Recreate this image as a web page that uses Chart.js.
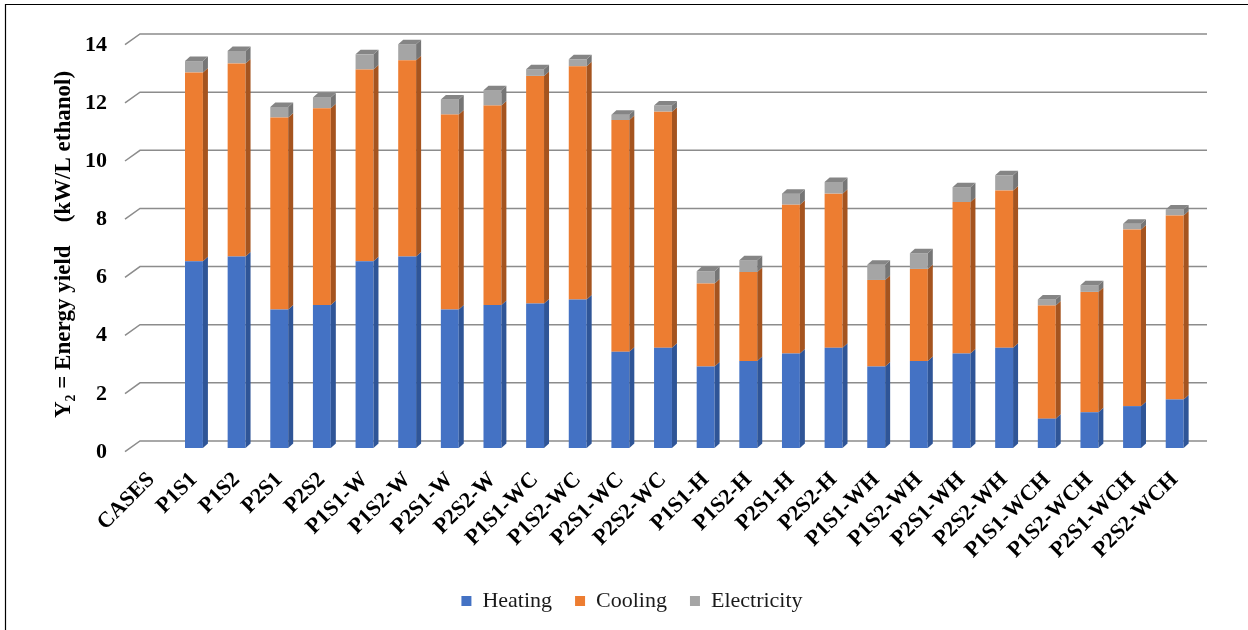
<!DOCTYPE html>
<html>
<head>
<meta charset="utf-8">
<script src="https://cdn.jsdelivr.net/npm/chart.js@4.4.1/dist/chart.umd.min.js"></script>
<style>
  html, body { margin: 0; padding: 0; background: #fff; }
  #wrap { position: relative; width: 1248px; height: 630px; }
</style>
</head>
<body>
<div id="wrap"><canvas id="barChart" width="1248" height="630"></canvas></div>
<script>
// cases on the x axis (first slot is the axis caption, it has no bar)
var casos = ['CASES', 'P1S1', 'P1S2', 'P2S1', 'P2S2', 'P1S1-W', 'P1S2-W', 'P2S1-W', 'P2S2-W',
  'P1S1-WC', 'P1S2-WC', 'P2S1-WC', 'P2S2-WC', 'P1S1-H', 'P1S2-H', 'P2S1-H', 'P2S2-H',
  'P1S1-WH', 'P1S2-WH', 'P2S1-WH', 'P2S2-WH', 'P1S1-WCH', 'P1S2-WCH', 'P2S1-WCH', 'P2S2-WCH'];

// energy yield per stack part (kW/L ethanol)
var heating = [null, 6.42, 6.59, 4.76, 4.92, 6.42, 6.59, 4.76, 4.92, 4.97, 5.11, 3.31, 3.45,
  2.80, 2.99, 3.25, 3.45, 2.80, 2.99, 3.25, 3.45, 1.01, 1.23, 1.44, 1.67];
var cooling = [null, 6.50, 6.64, 6.61, 6.77, 6.60, 6.75, 6.71, 6.86, 7.83, 8.02, 7.97, 8.12,
  2.86, 3.06, 5.12, 5.30, 2.98, 3.17, 5.21, 5.41, 3.89, 4.14, 6.08, 6.33];
var electricity = [null, 0.39, 0.43, 0.36, 0.37, 0.52, 0.55, 0.52, 0.53, 0.23, 0.24, 0.18, 0.21,
  0.42, 0.41, 0.38, 0.40, 0.52, 0.54, 0.51, 0.52, 0.21, 0.23, 0.19, 0.20];

var yTicks = [0, 2, 4, 6, 8, 10, 12, 14];

var fuente = "'Liberation Serif', 'Times New Roman', serif";

// front colour / side colour / top colour for every series
var colores = {
  Heating: ['#4472C4', '#2F5597', '#3A62A8'],
  Cooling: ['#ED7D31', '#A5541F', '#C66524'],
  Electricity: ['#A5A5A5', '#767676', '#858585']
};

// 3D look: depth of the bars and of the back wall
var DX = 5, DY = 4.5;
var WALL_DY = 7;

var bar3d = {
  id: 'bar3d',
  beforeDatasetsDraw: function(chart) {
    var ctx = chart.ctx;
    var y = chart.scales.y;
    var area = chart.chartArea;
    ctx.save();
    ctx.strokeStyle = '#8c8c8c';
    ctx.lineWidth = 1.5;
    yTicks.forEach(function(v) {
      var py = y.getPixelForValue(v);
      ctx.beginPath();
      // floor edge up to the back wall
      ctx.moveTo(area.left - 5, py + 3.7);
      ctx.lineTo(area.left + 10, py - WALL_DY);
      // line on the back wall
      ctx.lineTo(area.right + 11, py - WALL_DY);
      ctx.stroke();
    });
    ctx.restore();
  },
  afterDatasetsDraw: function(chart) {
    var ctx = chart.ctx;
    ctx.save();
    chart.data.datasets.forEach(function(ds, d) {
      var meta = chart.getDatasetMeta(d);
      var c = colores[ds.label];
      meta.data.forEach(function(bar, i) {
        if (ds.data[i] == null) return;
        var p = bar.getProps(['x', 'y', 'base', 'width'], true);
        var xl = p.x - p.width / 2, xr = p.x + p.width / 2;
        // right side
        ctx.fillStyle = c[1];
        ctx.beginPath();
        ctx.moveTo(xr, p.y);
        ctx.lineTo(xr + DX, p.y - DY);
        ctx.lineTo(xr + DX, p.base - DY);
        ctx.lineTo(xr, p.base);
        ctx.closePath();
        ctx.fill();
        // top only on the last part of the stack
        if (d === chart.data.datasets.length - 1) {
          ctx.fillStyle = c[2];
          ctx.beginPath();
          ctx.moveTo(xl, p.y);
          ctx.lineTo(xl + DX, p.y - DY);
          ctx.lineTo(xr + DX, p.y - DY);
          ctx.lineTo(xr, p.y);
          ctx.closePath();
          ctx.fill();
        }
      });
    });
    ctx.restore();
  },
  afterDraw: function(chart) {
    // frame round the figure
    var ctx = chart.ctx;
    ctx.save();
    ctx.strokeStyle = '#000';
    ctx.lineWidth = 1.2;
    ctx.beginPath();
    ctx.moveTo(5.5, 630);
    ctx.lineTo(5.5, 4.5);
    ctx.lineTo(1248, 4.5);
    ctx.stroke();
    ctx.restore();
  }
};

function serie(nombre, datos) {
  return {
    label: nombre,
    data: datos,
    backgroundColor: colores[nombre][0],
    borderWidth: 0,
    barPercentage: 0.42,
    categoryPercentage: 1.0
  };
}

var ctx = document.getElementById('barChart').getContext('2d');
var chart = new Chart(ctx, {
  type: 'bar',
  data: {
    labels: casos,
    datasets: [
      serie('Heating', heating),
      serie('Cooling', cooling),
      serie('Electricity', electricity)
    ]
  },
  options: {
    responsive: false,
    animation: false,
    devicePixelRatio: 1,
    layout: { padding: { top: 41, left: 16, right: 0, bottom: 8 } },
    plugins: {
      tooltip: { enabled: false },
      legend: {
        position: 'bottom',
        labels: {
          color: '#1a1a1a',
          font: { family: fuente, size: 22 },
          boxWidth: 10,
          boxHeight: 10,
          padding: 23
        }
      }
    },
    scales: {
      x: {
        stacked: true,
        grid: { display: false, drawTicks: false },
        border: { display: false },
        ticks: {
          color: '#000',
          autoSkip: false,
          maxRotation: 45,
          minRotation: 45,
          padding: 19,
          font: { family: fuente, size: 22, weight: 'bold' }
        },
        afterFit: function(scale) { scale.height = 119; }
      },
      y: {
        stacked: true,
        min: 0,
        max: 14,
        grid: { display: false, drawTicks: false },
        border: { display: false },
        ticks: {
          color: '#000',
          stepSize: 2,
          padding: 23,
          labelOffset: 4,
          font: { family: fuente, size: 22, weight: 'bold' }
        },
        title: {
          display: true,
          text: 'Y\u2082 = Energy yield    (kW/L ethanol)',
          color: '#000',
          padding: { top: 34, bottom: 0 },
          font: { family: fuente, size: 23, weight: 'bold' }
        },
        afterFit: function(scale) { scale.width = 114; }
      },
      // empty strip on the right, keeps the plot clear of the edge
      derecha: {
        type: 'linear',
        position: 'right',
        grid: { display: false, drawTicks: false },
        border: { display: false },
        ticks: { display: false },
        afterFit: function(scale) { scale.width = 52; }
      }
    }
  },
  plugins: [bar3d]
});
</script>
</body>
</html>
